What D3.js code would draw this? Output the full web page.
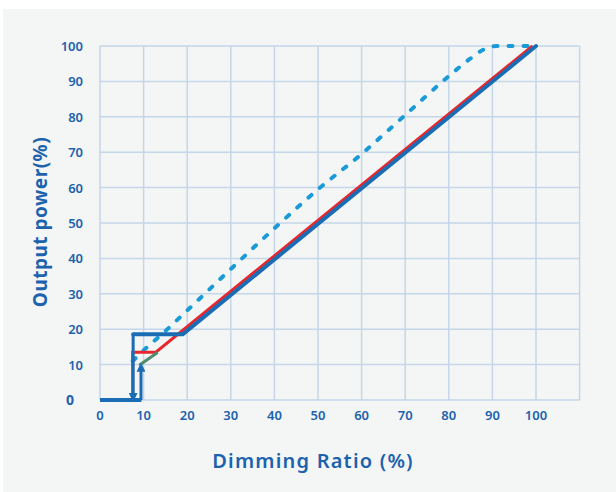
<!DOCTYPE html>
<html>
<head>
<meta charset="utf-8">
<script src="https://cdn.jsdelivr.net/npm/d3@7"></script>
<style>
  body { margin: 0; background: #fff; }
  text { font-family: "Noto Sans", "Open Sans", sans-serif; }
</style>
</head>
<body>
<svg id="chart" width="616" height="492"></svg>
<script>
const xTicks = [0, 10, 20, 30, 40, 50, 60, 70, 80, 90, 100];
const yTicks = [10, 20, 30, 40, 50, 60, 70, 80, 90, 100];

// solid blue curve: down arrow, step, then linear
const blueDown = [[7.6, 18.6], [7.6, 1.5]];
const blueMain = [[7.6, 18.6], [19, 18.6], [100, 100]];
const blueBase = [[0, 0], [9.5, 0]];
const blueUp = [[9.4, 0], [9.4, 8.5]];
const redLine = [[7.5, 0], [7.5, 13.5], [12.8, 13.5], [99.2, 100]];
const greenLine = [[9.0, 9.8], [13.2, 13.4]];
const dashedLine = [[7.5, 11], [10, 14], [15, 19.5], [20, 25.3], [30, 37], [40, 48.5],
  [50, 59.5], [60, 69.5], [70, 80.5], [80, 91.5], [85, 96.5], [88, 99], [91, 100], [100, 100]];

const svg = d3.select("#chart");
const blue = "#1a6db5", gridColor = "#c4d6e8", textColor = "#1c62ad";

svg.append("rect")
  .attr("x", 3).attr("y", 9)
  .attr("width", 613).attr("height", 483)
  .attr("fill", "#f4f6f6");

const x = d3.scaleLinear().domain([0, 110]).range([100, 579.6]);
const y = d3.scaleLinear().domain([0, 100]).range([400, 46]);

const grid = svg.append("g");
grid.selectAll("line.v")
  .data(d3.range(0, 111, 10))
  .join("line")
  .attr("x1", d => x(d)).attr("x2", d => x(d))
  .attr("y1", y(0)).attr("y2", y(100))
  .attr("stroke", gridColor).attr("stroke-width", 1.5);
grid.selectAll("line.h")
  .data(d3.range(0, 101, 10))
  .join("line")
  .attr("class", "h")
  .attr("x1", x(0)).attr("x2", x(110))
  .attr("y1", d => y(d)).attr("y2", d => y(d))
  .attr("stroke", gridColor).attr("stroke-width", 1.5);

// tick labels
svg.append("g").selectAll("text")
  .data(yTicks)
  .join("text")
  .attr("x", 83).attr("y", d => y(d) + 5)
  .attr("text-anchor", "end")
  .attr("font-size", 13).attr("font-weight", 600)
  .attr("fill", textColor)
  .text(d => d);

svg.append("text")
  .attr("x", 70).attr("y", y(0) + 5)
  .attr("text-anchor", "middle")
  .attr("font-size", 14).attr("font-weight", 700)
  .attr("fill", textColor)
  .text("0");

svg.append("g").selectAll("text")
  .data(xTicks)
  .join("text")
  .attr("x", d => x(d)).attr("y", 420)
  .attr("text-anchor", "middle")
  .attr("font-size", 13).attr("font-weight", 600)
  .attr("fill", textColor)
  .text(d => d);

// axis titles
svg.append("text")
  .attr("transform", "translate(47,222) rotate(-90)")
  .attr("text-anchor", "middle")
  .attr("font-size", 19).attr("font-weight", 700)
  .attr("letter-spacing", 0.5)
  .attr("fill", textColor)
  .text("Output power(%)");

svg.append("text")
  .attr("x", 313).attr("y", 468)
  .attr("text-anchor", "middle")
  .attr("font-size", 20).attr("font-weight", 600)
  .attr("letter-spacing", 1.2)
  .attr("fill", textColor)
  .text("Dimming Ratio (%)");

const line = d3.line().x(d => x(d[0])).y(d => y(d[1]));

const defs = svg.append("defs");
defs.append("marker")
  .attr("id", "arrow")
  .attr("viewBox", "0 0 10 10")
  .attr("refX", 2).attr("refY", 5)
  .attr("markerWidth", 3).attr("markerHeight", 3)
  .attr("markerUnits", "strokeWidth")
  .attr("orient", "auto")
  .append("path")
  .attr("d", "M0,0 L10,5 L0,10 Z")
  .attr("fill", blue);

svg.append("path")
  .datum(dashedLine)
  .attr("d", d3.line().curve(d3.curveMonotoneX).x(d => x(d[0])).y(d => y(d[1])))
  .attr("fill", "none")
  .attr("stroke", "#1a9bd8").attr("stroke-width", 4)
  .attr("stroke-linecap", "round")
  .attr("stroke-dasharray", "4,11");

svg.append("path")
  .datum(redLine)
  .attr("d", line)
  .attr("fill", "none")
  .attr("stroke", "#e8272c").attr("stroke-width", 3);

svg.append("path")
  .datum(greenLine)
  .attr("d", line)
  .attr("fill", "none")
  .attr("stroke", "#4d8c6c").attr("stroke-width", 3);

svg.append("path")
  .datum(blueMain)
  .attr("d", line)
  .attr("fill", "none")
  .attr("stroke", blue).attr("stroke-width", 4)
  .attr("stroke-linecap", "round");

svg.append("path")
  .datum(blueBase)
  .attr("d", line)
  .attr("fill", "none")
  .attr("stroke", blue).attr("stroke-width", 4);

[blueDown, blueUp].forEach(seg => {
  svg.append("path")
    .datum(seg)
    .attr("d", line)
    .attr("fill", "none")
    .attr("stroke", blue).attr("stroke-width", 3)
    .attr("marker-end", "url(#arrow)");
});
</script>
</body>
</html>
